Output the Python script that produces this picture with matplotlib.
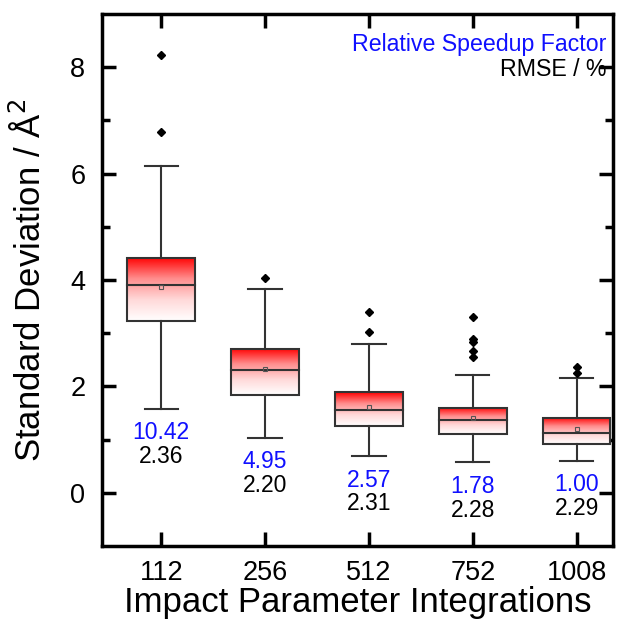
import matplotlib
matplotlib.use("Agg")
import matplotlib.pyplot as plt
import numpy as np
from matplotlib.colors import LinearSegmentedColormap
from matplotlib.patches import Rectangle

plt.rcParams['font.family'] = ['Liberation Sans', 'DejaVu Sans']

categories = ["112", "256", "512", "752", "1008"]
whisker_low = [1.58, 1.03, 0.69, 0.57, 0.60]
q1 = [3.23, 1.84, 1.26, 1.10, 0.92]
median = [3.90, 2.30, 1.55, 1.36, 1.13]
mean = [3.87, 2.32, 1.61, 1.40, 1.19]
q3 = [4.42, 2.71, 1.89, 1.60, 1.41]
whisker_high = [6.14, 3.84, 2.80, 2.21, 2.16]
outliers = [[8.23, 6.79], [4.03], [3.40, 3.02], [3.30, 2.90, 2.84, 2.67, 2.55], [2.36, 2.25]]
speedup = ["10.42", "4.95", "2.57", "1.78", "1.00"]
rmse = ["2.36", "2.20", "2.31", "2.28", "2.29"]

fig = plt.figure(figsize=(6.29, 6.30), dpi=100)
ax = fig.add_axes([102/629, 1-546/630, (613-102)/629, (546-14)/630])

pos = np.arange(1, len(categories) + 1)
bw = 0.65
cw = 0.32
cmap = LinearSegmentedColormap.from_list("rw", [(1, 1, 1), (1, 0.85, 0.85), (1, 0.55, 0.55), (1, 0, 0)])
grad = np.linspace(0, 1, 256).reshape(-1, 1)
lc = '#333333'
for i, p in enumerate(pos):
    x0 = p - bw / 2
    im = ax.imshow(grad, extent=[x0, x0 + bw, q1[i], q3[i]], origin='lower', aspect='auto',
                   cmap=cmap, zorder=2)
    rect = Rectangle((x0, q1[i]), bw, q3[i] - q1[i], fill=False, ec=lc, lw=1.5, zorder=3)
    ax.add_patch(rect)
    im.set_clip_path(rect)
    ax.plot([x0, x0 + bw], [median[i]] * 2, color=lc, lw=1.5, zorder=4)
    ax.plot([p, p], [q3[i], whisker_high[i]], color=lc, lw=1.5, zorder=3)
    ax.plot([p, p], [whisker_low[i], q1[i]], color=lc, lw=1.5, zorder=3)
    ax.plot([p - cw / 2, p + cw / 2], [whisker_high[i]] * 2, color=lc, lw=1.5, zorder=3)
    ax.plot([p - cw / 2, p + cw / 2], [whisker_low[i]] * 2, color=lc, lw=1.5, zorder=3)
    ax.plot([p], [mean[i]], marker='s', ms=3, mfc='none', mec='#555555', mew=0.8, zorder=5)
    ax.plot([p] * len(outliers[i]), outliers[i], linestyle='none', marker='D', ms=4.5,
            color='black', zorder=5)
    ax.text(p, whisker_low[i] - 0.45, speedup[i], color='#1010ff', fontsize=16.5,
            ha='center', va='center')
    ax.text(p, whisker_low[i] - 0.9, rmse[i], color='black', fontsize=16.5,
            ha='center', va='center')

ax.set_xlim(0.43, 5.35)
ax.set_ylim(-1, 9)
ax.set_xticks(pos)
ax.set_xticklabels(categories)
ax.set_yticks([0, 2, 4, 6, 8])
ax.set_yticks([1, 3, 5, 7], minor=True)
ax.tick_params(axis='both', which='major', direction='in', length=10, width=2.5,
               labelsize=19.5, top=True, right=True)
ax.tick_params(axis='y', which='major', pad=12)
ax.tick_params(axis='x', which='major', pad=10)
ax.tick_params(axis='y', which='minor', direction='in', length=6, width=2.5, right=True)
for s in ax.spines.values():
    s.set_linewidth(2.5)
ax.set_xlabel("Impact Parameter Integrations", fontsize=25, labelpad=0)
ax.set_ylabel("Standard Deviation / Å$^2$", fontsize=25, labelpad=16)

ax.text(0.988, 0.942, "Relative Speedup Factor", transform=ax.transAxes, color='#1010ff',
        fontsize=16.7, ha='right', va='center')
ax.text(0.988, 0.895, "RMSE / %", transform=ax.transAxes, color='black',
        fontsize=16.7, ha='right', va='center')

fig.savefig("out.png", dpi=100)
